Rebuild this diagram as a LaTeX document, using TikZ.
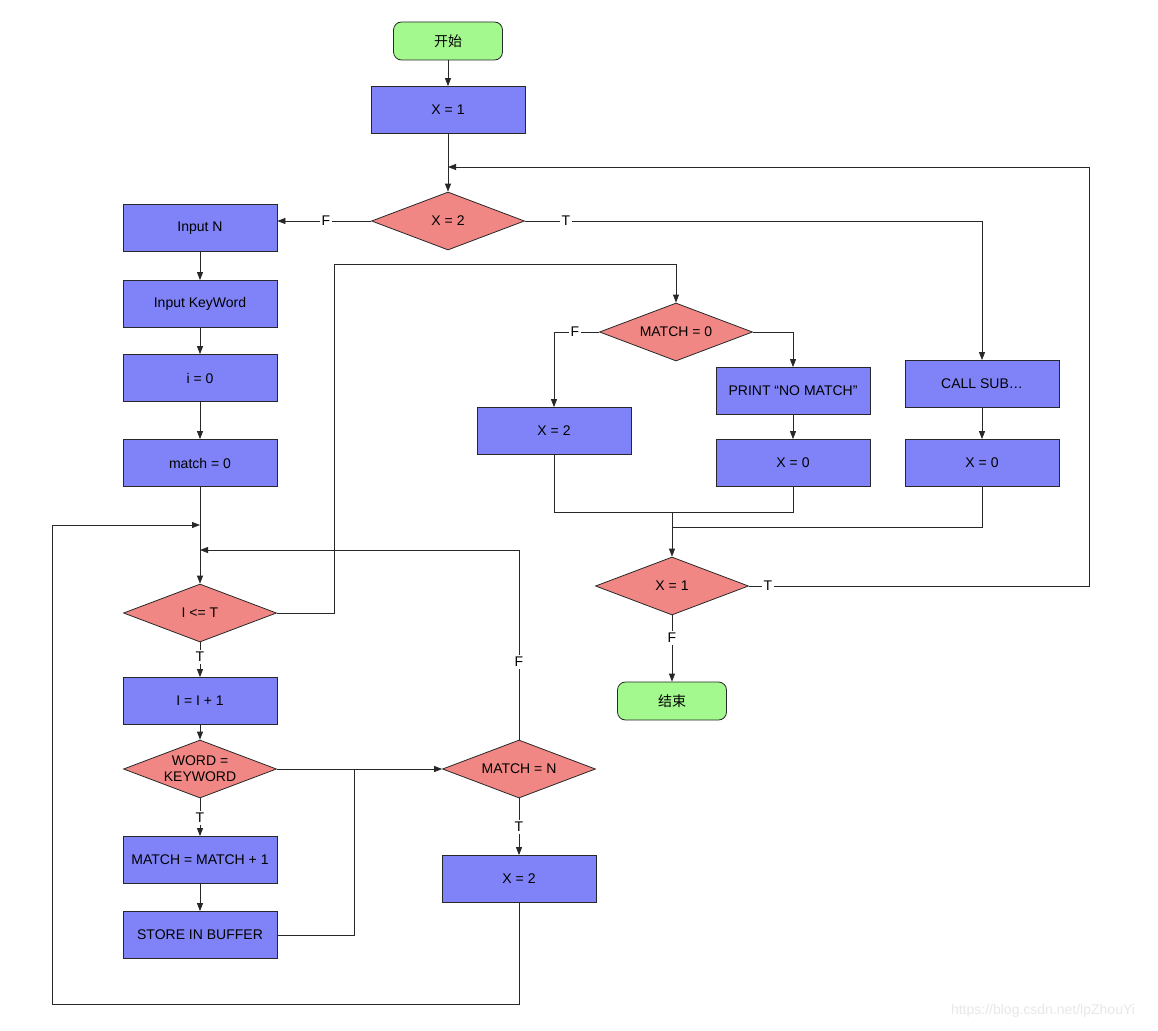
\documentclass[tikz,border=0pt]{standalone}
\usepackage{fontspec}
\setmainfont{Liberation Sans}
\newfontfamily\cjk{Noto Sans CJK SC}
\usetikzlibrary{arrows.meta,shapes.geometric}
\definecolor{boxblue}{RGB}{127,131,247}
\definecolor{boxred}{RGB}{240,135,132}
\definecolor{boxgreen}{RGB}{163,248,142}
\definecolor{edgec}{RGB}{40,40,40}
\tikzset{
 txt/.style={font=\fontsize{14}{16}\selectfont},
 proc/.style={txt, draw=edgec, line width=0.8pt, fill=boxblue, minimum width=154pt, minimum height=47pt, inner sep=0pt},
 term/.style={draw=edgec, line width=0.8pt, fill=boxgreen, rounded corners=8pt, minimum width=109pt, minimum height=38pt, inner sep=0pt, font=\cjk\fontsize{14}{16}\selectfont},
 dec/.style={draw=edgec, line width=0.8pt, fill=boxred, diamond, minimum width=153pt, minimum height=58pt, inner sep=0pt},
 dectext/.style={txt, align=center, inner sep=0pt},
 conn/.style={draw=edgec, line width=0.8pt},
 arr/.style={conn, -{Triangle[length=8pt,width=6pt]}},
 lbl/.style={txt, fill=white, inner sep=2pt},
}
\begin{document}
\begin{tikzpicture}[x=1pt,y=-1pt]
\path[use as bounding box, fill=white] (0,0) rectangle (1158,1030);

% nodes
\node[term] (start) at (448,41) {开始};
\node[proc] (x1) at (448,110) {X = 1};
\node[dec] (d2) at (448,221) {};
\node[dectext] (d2t) at (d2.center) {X = 2};

\node[proc] (inN) at (200,228) {Input N};
\node[proc] (inKW) at (200,304) {Input KeyWord};
\node[proc] (i0) at (200,378) {i = 0};
\node[proc] (m0) at (200,463) {match = 0};
\node[dec] (dIT) at (200,613) {};
\node[dectext] (dITt) at (dIT.center) {I <= T};
\node[proc] (inc) at (200,701) {I = I + 1};
\node[dec] (dWK) at (200,769) {};
\node[dectext] (dWKt) at (dWK.center) {WORD =\\KEYWORD};
\node[proc] (mp1) at (200,860) {MATCH = MATCH + 1};
\node[proc] (store) at (200,935) {STORE IN BUFFER};

\node[dec] (dMN) at (519,769) {};
\node[dectext] (dMNt) at (dMN.center) {MATCH = N};
\node[proc] (x2b) at (519,879) {X = 2};

\node[dec] (dM0) at (676,332) {};
\node[dectext] (dM0t) at (dM0.center) {MATCH = 0};
\node[proc] (x2m) at (554,431) {X = 2};
\node[proc] (print) at (793,391) {PRINT “NO MATCH”};
\node[proc] (x0m) at (793,463) {X = 0};
\node[proc] (call) at (982,384) {CALL SUB…};
\node[proc] (x0r) at (982,463) {X = 0};

\node[dec] (d1) at (672,586) {};
\node[dectext] (d1t) at (d1.center) {X = 1};
\node[term] (end) at (672,701) {结束};

% helper coordinates
\coordinate (loopin) at (448,167);
\coordinate (j1) at (200,525);
\coordinate (j2) at (200,550);
\coordinate (merge) at (672,512);

% connectors
\draw[arr] (start) -- (x1);
\draw[arr] (x1) -- (d2);
\draw[arr] (d1.east) -- (1089,586) -- (1089,167) -- (loopin);
\draw[arr] (d2.west) -- (inN.east |- d2.west);
\draw[arr] (d2.east) -| (call.north);
\draw[arr] (call) -- (x0r);
\draw[arr] (inN) -- (inKW);
\draw[arr] (inKW) -- (i0);
\draw[arr] (i0) -- (m0);
\draw[arr] (m0) -- (dIT);
\draw[arr] (x2b.south) -- (519,1004) -- (52,1004) -- (52,525) -- (j1);
\draw[arr] (dMN.north) -- (519,550) -- (j2);
\draw[arr] (dIT.east) -- (334,613) -- (334,264) -| (dM0.north);
\draw[arr] (dIT.south) -- (inc.north);
\draw[arr] (inc) -- (dWK);
\draw[arr] (dWK.east) -- (dMN.west);
\draw[arr] (dWK.south) -- (mp1.north);
\draw[arr] (mp1) -- (store);
\draw[conn] (store.east) -- (354,935) -- (354,769);
\draw[arr] (dMN.south) -- (x2b.north);
\draw[arr] (dM0.west) -| (x2m.north);
\draw[arr] (dM0.east) -| (print.north);
\draw[arr] (print) -- (x0m);
\draw[conn] (x2m.south) |- (merge);
\draw[conn] (x0m.south) |- (merge);
\draw[conn] (x0r.south) |- (672,527);
\draw[arr] (merge) -- (d1.north);
\draw[arr] (d1.south) -- (end.north);

% edge labels
\node[lbl] (lF1) at (326,221) {F};
\node[lbl] (lT1) at (566,221) {T};
\node[lbl] (lT2) at (768,586) {T};
\node[lbl] (lF2) at (672,638) {F};
\node[lbl] (lT3) at (200,657) {T};
\node[lbl] (lT4) at (200,818) {T};
\node[lbl] (lT5) at (519,827) {T};
\node[lbl] (lF3) at (519,662) {F};
\node[lbl] (lF4) at (575,332) {F};

% watermark
\node[font=\fontsize{14}{16}\selectfont, text=black!9] (wm) at (1043,1011) {https://blog.csdn.net/lpZhouYi};
\end{tikzpicture}
\end{document}
